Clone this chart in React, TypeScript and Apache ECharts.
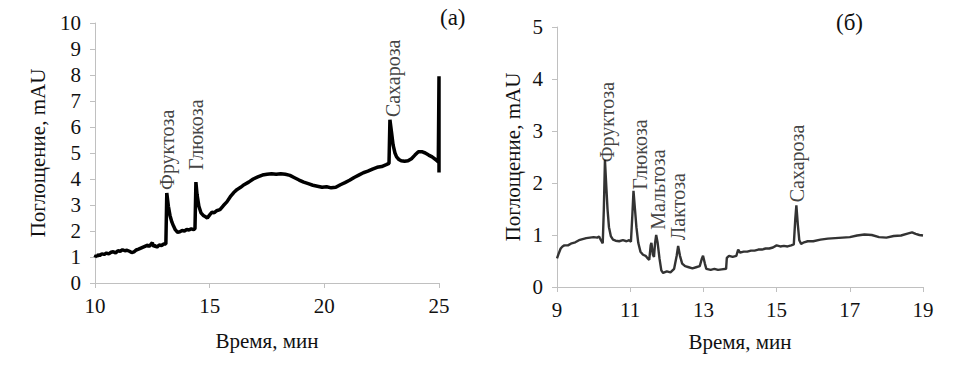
import React, { useEffect, useRef } from "react";
import * as echarts from "echarts";

// Panel (a)
const timeA = [10.0, 10.05, 10.1, 10.15, 10.2, 10.3, 10.4, 10.5, 10.6, 10.7, 10.8, 10.9, 11.0, 11.1, 11.2, 11.3, 11.4, 11.5, 11.6, 11.7, 11.8, 11.9, 12.0, 12.1, 12.2, 12.3, 12.35, 12.4, 12.5, 12.55, 12.6, 12.7, 12.8, 12.9, 13.0, 13.09, 13.13, 13.2, 13.27, 13.35, 13.42, 13.5, 13.6, 13.7, 13.8, 13.9, 14.0, 14.1, 14.2, 14.3, 14.36, 14.4, 14.45, 14.53, 14.62, 14.72, 14.82, 14.9, 15.0, 15.1, 15.2, 15.3, 15.45, 15.6, 15.75, 15.9, 16.05, 16.2, 16.35, 16.5, 16.7, 16.9, 17.1, 17.3, 17.5, 17.7, 17.9, 18.1, 18.3, 18.5, 18.7, 18.9, 19.1, 19.3, 19.5, 19.7, 19.9, 20.1, 20.3, 20.5, 20.7, 20.9, 21.1, 21.3, 21.5, 21.7, 21.9, 22.1, 22.3, 22.5, 22.7, 22.82, 22.86, 22.93, 23.0, 23.08, 23.15, 23.25, 23.35, 23.5, 23.65, 23.8, 23.95, 24.1, 24.25, 24.4, 24.55, 24.7, 24.85, 24.97, 25.0, 25.0];
const absA = [0.98, 1.06, 1.02, 1.1, 1.05, 1.12, 1.1, 1.15, 1.12, 1.18, 1.2, 1.16, 1.24, 1.22, 1.28, 1.24, 1.26, 1.22, 1.17, 1.2, 1.27, 1.3, 1.34, 1.38, 1.42, 1.46, 1.4, 1.45, 1.55, 1.4, 1.44, 1.38, 1.46, 1.44, 1.5, 1.5, 3.46, 2.95, 2.6, 2.35, 2.2, 2.05, 1.95, 1.97, 2.02, 2.0, 2.06, 2.04, 2.08, 2.05, 2.1, 3.88, 3.4, 2.95, 2.7, 2.6, 2.55, 2.5, 2.62, 2.72, 2.7, 2.78, 2.82, 2.98, 3.12, 3.32, 3.48, 3.6, 3.68, 3.78, 3.88, 4.0, 4.08, 4.15, 4.18, 4.2, 4.18, 4.2, 4.18, 4.14, 4.05, 3.96, 3.88, 3.82, 3.76, 3.72, 3.68, 3.7, 3.66, 3.68, 3.78, 3.86, 3.95, 4.06, 4.15, 4.24, 4.3, 4.38, 4.45, 4.48, 4.55, 4.6, 6.28, 5.8, 5.3, 5.0, 4.85, 4.75, 4.7, 4.68, 4.7, 4.78, 4.92, 5.05, 5.05, 5.0, 4.92, 4.85, 4.75, 4.65, 7.95, 4.25];
const peakNamesA = ["Фруктоза", "Глюкоза", "Сахароза"];
const peakTimeA = [13.14, 14.4, 23.0];
const peakLabelValA = [3.58, 4.35, 6.38];
const xTicksA = [10, 15, 20, 25];

// Panel (б)
const timeB = [9.0, 9.05, 9.1, 9.15, 9.2, 9.3, 9.4, 9.5, 9.6, 9.7, 9.8, 9.9, 10.0, 10.1, 10.15, 10.2, 10.25, 10.28, 10.31, 10.35, 10.38, 10.42, 10.47, 10.53, 10.6, 10.7, 10.8, 10.9, 10.97, 11.02, 11.06, 11.09, 11.13, 11.17, 11.22, 11.28, 11.35, 11.42, 11.48, 11.52, 11.56, 11.58, 11.62, 11.65, 11.68, 11.71, 11.75, 11.8, 11.85, 11.9, 12.0, 12.1, 12.2, 12.27, 12.31, 12.36, 12.42, 12.5, 12.6, 12.7, 12.8, 12.9, 12.96, 12.99, 13.04, 13.08, 13.2, 13.3, 13.4, 13.5, 13.62, 13.64, 13.7, 13.8, 13.9, 13.95, 14.0, 14.1, 14.2, 14.3, 14.4, 14.5, 14.6, 14.7, 14.8, 14.9, 15.0, 15.1, 15.2, 15.3, 15.4, 15.47, 15.51, 15.54, 15.58, 15.62, 15.67, 15.75, 15.85, 16.0, 16.2, 16.4, 16.6, 16.8, 17.0, 17.2, 17.4, 17.6, 17.8, 18.0, 18.2, 18.4, 18.6, 18.7, 18.8, 18.9, 19.0];
const absB = [0.55, 0.65, 0.74, 0.78, 0.8, 0.8, 0.84, 0.86, 0.9, 0.92, 0.94, 0.95, 0.96, 0.95, 0.97, 0.9, 0.84, 1.5, 2.44, 1.9, 1.5, 1.15, 0.98, 0.91, 0.89, 0.88, 0.9, 0.88, 0.9, 0.87, 1.4, 1.85, 1.5, 1.15, 0.85, 0.68, 0.62, 0.6, 0.55, 0.52, 0.8, 0.85, 0.62, 0.58, 0.85, 1.0, 0.85, 0.55, 0.32, 0.27, 0.3, 0.28, 0.35, 0.6, 0.79, 0.6, 0.45, 0.4, 0.38, 0.36, 0.38, 0.4, 0.55, 0.6, 0.45, 0.35, 0.33, 0.35, 0.33, 0.34, 0.35, 0.56, 0.6, 0.58, 0.6, 0.72, 0.66, 0.68, 0.68, 0.7, 0.7, 0.72, 0.72, 0.74, 0.74, 0.76, 0.8, 0.78, 0.79, 0.78, 0.8, 0.82, 1.3, 1.57, 1.2, 0.9, 0.83, 0.86, 0.88, 0.88, 0.91, 0.93, 0.94, 0.95, 0.96, 0.99, 1.01, 1.0, 0.96, 0.95, 0.98, 0.99, 1.03, 1.05, 1.02, 1.0, 0.99];
const peakNamesB = ["Фруктоза", "Глюкоза", "Мальтоза", "Лактоза", "Сахароза"];
const peakTimeB = [10.37, 11.27, 11.76, 12.31, 15.56];
const peakLabelValB = [2.4, 1.87, 1.1, 0.9, 1.63];
const xTicksB = [9, 11, 13, 15, 17, 19];

const FONT = "serif";
const AXIS_GRAY = "#c0c0c0";
const TEXT_COLOR = "#111";

function zip(a: number[], b: number[]) {
  return a.map((t, i) => [t, b[i]]);
}

export default function App() {
  const ref = useRef<HTMLDivElement>(null);
  useEffect(() => {
    if (!ref.current) return;
    const chart = echarts.init(ref.current, undefined, { renderer: "svg" });
    const lbl = (margin: number, custom?: number[]) => {
      const o: any = { fontFamily: FONT, fontSize: 21, color: TEXT_COLOR, margin };
      if (custom) o.customValues = custom;
      return o;
    };
    const nameStyle = { fontFamily: FONT, fontSize: 21, color: TEXT_COLOR };
    const axisLine = { show: true, lineStyle: { color: AXIS_GRAY, width: 1 } };
    const tick = (custom?: number[]) => {
      const o: any = { show: true, length: 5, lineStyle: { color: AXIS_GRAY } };
      if (custom) o.customValues = custom;
      return o;
    };
    const labelStyle = {
      show: true,
      formatter: "{b}",
      position: [0, 0],
      rotate: 90,
      align: "left",
      verticalAlign: "middle",
      color: TEXT_COLOR,
      fontFamily: FONT,
      fontSize: 20,
    };
    chart.setOption({
      animation: false,
      backgroundColor: "#fff",
      grid: [
        { left: 95, top: 23, width: 344, height: 260 },
        { left: 557, top: 27, width: 366, height: 260 },
      ],
      xAxis: [
        {
          gridIndex: 0, type: "value", min: 10, max: 25, interval: 5,
          name: "Время, мин", nameLocation: "middle", nameGap: 47, nameTextStyle: nameStyle,
          axisLine, splitLine: { show: false }, axisLabel: lbl(12, xTicksA), axisTick: tick(xTicksA),
        },
        {
          gridIndex: 1, type: "value", min: 9, max: 19,
          name: "Время, мин", nameLocation: "middle", nameGap: 44, nameTextStyle: nameStyle,
          axisLine, splitLine: { show: false }, axisLabel: lbl(12, xTicksB), axisTick: tick(xTicksB),
        },
      ],
      yAxis: [
        {
          gridIndex: 0, type: "value", min: 0, max: 10, interval: 1,
          name: "Поглощение, mAU", nameLocation: "middle", nameGap: 47, nameTextStyle: nameStyle,
          axisLine, splitLine: { show: false }, axisLabel: lbl(14), axisTick: tick(),
        },
        {
          gridIndex: 1, type: "value", min: 0, max: 5, interval: 1,
          name: "Поглощение, mAU", nameLocation: "middle", nameGap: 34, nameTextStyle: nameStyle,
          axisLine, splitLine: { show: false }, axisLabel: lbl(14), axisTick: tick(),
        },
      ],
      series: [
        {
          type: "line", xAxisIndex: 0, yAxisIndex: 0, data: zip(timeA, absA),
          showSymbol: false, clip: false, lineStyle: { color: "#000", width: 3.5 }, z: 3,
        },
        {
          type: "line", xAxisIndex: 1, yAxisIndex: 1, data: zip(timeB, absB),
          showSymbol: false, clip: false, lineStyle: { color: "#333", width: 2.4 }, z: 3,
        },
        {
          type: "scatter", xAxisIndex: 0, yAxisIndex: 0, symbolSize: 0,
          itemStyle: { color: "transparent" }, label: labelStyle,
          data: peakNamesA.map((n, i) => ({ name: n, value: [peakTimeA[i], peakLabelValA[i]] })), z: 4,
        },
        {
          type: "scatter", xAxisIndex: 1, yAxisIndex: 1, symbolSize: 0,
          itemStyle: { color: "transparent" }, label: labelStyle,
          data: peakNamesB.map((n, i) => ({ name: n, value: [peakTimeB[i], peakLabelValB[i]] })), z: 4,
        },
      ],
      graphic: [
        { type: "text", left: 440, top: 6, style: { text: "(a)", fill: TEXT_COLOR, fontFamily: FONT, fontSize: 23 } },
        { type: "text", left: 836, top: 11, style: { text: "(б)", fill: TEXT_COLOR, fontFamily: FONT, fontSize: 23 } },
      ],
    });
    return () => chart.dispose();
  }, []);
  return (
    <div ref={ref} style={{ position: "fixed", left: 0, top: 0, width: 954, height: 378, background: "#fff" }} />
  );
}
